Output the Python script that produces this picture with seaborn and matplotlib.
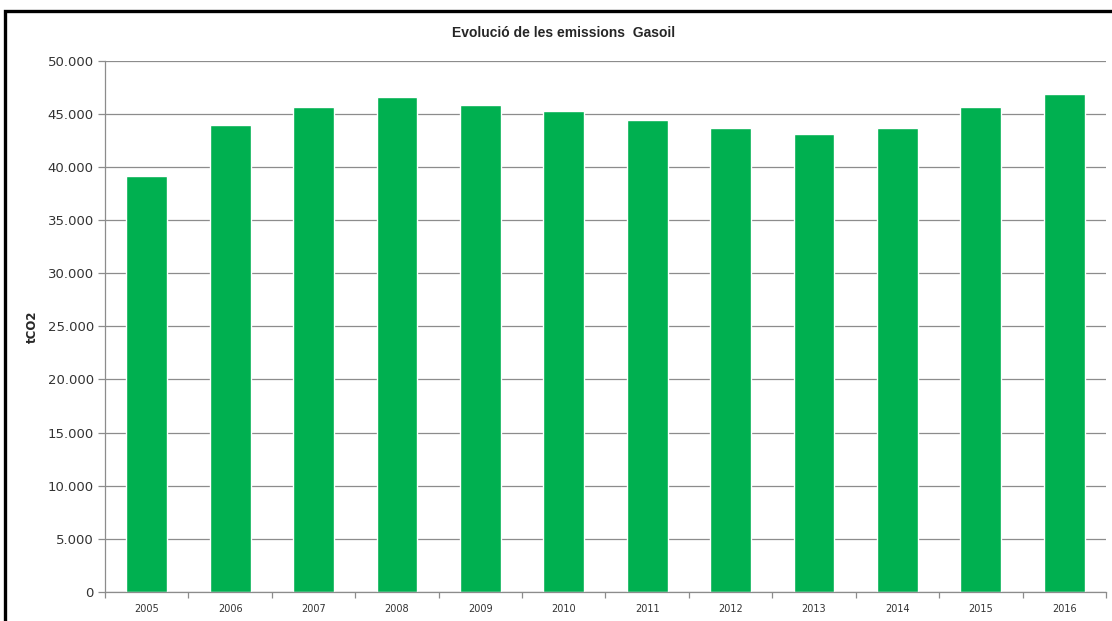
import numpy as np
import matplotlib
matplotlib.use("Agg")
import matplotlib.pyplot as plt
import seaborn as sns
import pandas as pd
from matplotlib.ticker import FuncFormatter, MultipleLocator
from matplotlib.patches import Rectangle

# dades llegides del gràfic
anys = ["2005", "2006", "2007", "2008", "2009", "2010",
        "2011", "2012", "2013", "2014", "2015", "2016"]
emissions = [39150, 43900, 45600, 46600, 45850, 45300,
             44450, 43700, 43130, 43700, 45600, 46900]

titol = "Evolució de les emissions  Gasoil"
etiqueta_y = "tCO2"
verd = "#00B050"

df = pd.DataFrame({"any": anys, "tco2": emissions})

sns.set_style("white")
plt.rcParams['font.family'] = ['DejaVu Sans']

fig = plt.figure(figsize=(11.12, 6.21), dpi=100)
ax = fig.add_axes([0.0944, 0.0467, 0.9002, 0.8556])

sns.barplot(data=df, x="any", y="tco2", color=verd, width=0.49,
            saturation=1, ax=ax)

ax.set_ylim(0, 50000)
ax.set_xlim(-0.5, len(anys) - 0.5)
ax.yaxis.set_major_locator(MultipleLocator(5000))
ax.yaxis.set_major_formatter(FuncFormatter(lambda v, p: f"{v:,.0f}".replace(",", ".")))
ax.grid(axis="y", color="#8c8c8c", linewidth=0.9)
ax.set_axisbelow(True)

# marques de l'eix x entre categories
ax.set_xticks(np.arange(-0.5, len(anys), 1), minor=True)
ax.tick_params(axis="x", which="major", bottom=False, labelsize=7, pad=5,
               labelcolor="#333333")
ax.tick_params(axis="x", which="minor", bottom=True, length=4, width=0.9,
               color="#8c8c8c", direction="out")
ax.tick_params(axis="y", left=True, length=5, width=0.9, color="#8c8c8c",
               labelsize=9.5, labelcolor="#333333", pad=3)

for s in ["top", "right"]:
    ax.spines[s].set_visible(False)
for s in ["left", "bottom"]:
    ax.spines[s].set_color("#8c8c8c")
    ax.spines[s].set_linewidth(0.9)

ax.set_xlabel("")
ax.set_ylabel(etiqueta_y, fontsize=8.5, fontweight="bold", labelpad=6)

fig.text(0.507, 0.947, titol, ha="center", va="center",
         fontsize=10, fontweight="bold", family=["Liberation Sans", "DejaVu Sans"])

# vora del gràfic
vora = Rectangle((5 / 1112, -0.2), 1.2, (621 - 11) / 621 + 0.2,
                 transform=fig.transFigure, fill=False,
                 edgecolor="black", linewidth=2.4, clip_on=False)
fig.patches.append(vora)

fig.savefig("out.png", dpi=100)
